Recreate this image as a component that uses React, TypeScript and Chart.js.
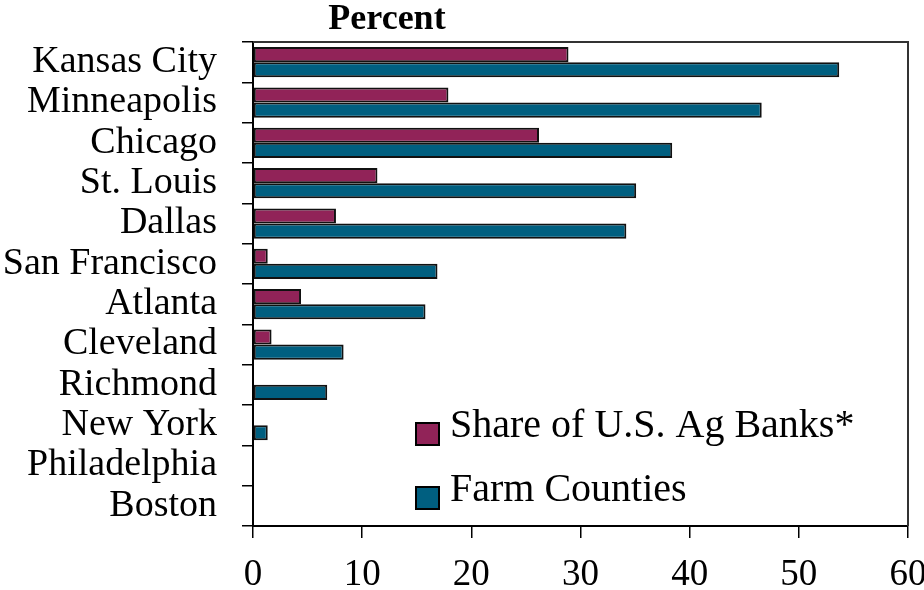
import React, { useEffect, useRef } from "react";
import { Chart, registerables } from "chart.js";

Chart.register(...registerables);

const categories = [
  "Kansas City",
  "Minneapolis",
  "Chicago",
  "St. Louis",
  "Dallas",
  "San Francisco",
  "Atlanta",
  "Cleveland",
  "Richmond",
  "New York",
  "Philadelphia",
  "Boston",
];

const agBankShare = [28.9, 17.9, 26.2, 11.4, 7.6, 1.35, 4.4, 1.7, 0, 0, 0, 0];
const farmCounties = [53.7, 46.6, 38.4, 35.1, 34.2, 16.9, 15.8, 8.3, 6.8, 1.35, 0, 0];

const seriesNames = ["Share of U.S. Ag Banks*", "Farm Counties"];
const xTicks = [0, 10, 20, 30, 40, 50, 60];
const titleText = "Percent";

const MAROON = "#912358";
const TEAL = "#005F80";
const FONT = "'Liberation Serif', 'Times New Roman', serif";

const framePlugin = {
  id: "frame",
  afterDraw(chart: any) {
    const { ctx, chartArea } = chart;
    ctx.save();
    // top and right frame
    ctx.strokeStyle = "#333";
    ctx.lineWidth = 2;
    ctx.beginPath();
    ctx.moveTo(chartArea.left, chartArea.top);
    ctx.lineTo(chartArea.right, chartArea.top);
    ctx.lineTo(chartArea.right, chartArea.bottom);
    ctx.stroke();

    // title
    ctx.fillStyle = "#000";
    ctx.font = `bold 36px ${FONT}`;
    ctx.textAlign = "center";
    ctx.textBaseline = "alphabetic";
    ctx.fillText(titleText, chartArea.left + 134, 29);

    // legend
    ctx.font = `40px ${FONT}`;
    ctx.textAlign = "left";
    chart.data.datasets.forEach((ds: any, i: number) => {
      const bx = chartArea.left + 163;
      const cy = chartArea.bottom - 92 + i * 64;
      ctx.fillStyle = ds.backgroundColor;
      ctx.fillRect(bx, cy - 11, 23, 22);
      ctx.strokeStyle = "#000";
      ctx.lineWidth = 2;
      ctx.strokeRect(bx, cy - 11, 23, 22);
      ctx.fillStyle = "#000";
      ctx.fillText(ds.label, bx + 34, cy + 3);
    });
    ctx.restore();
  },
};

export default function App() {
  const ref = useRef<HTMLCanvasElement>(null);

  useEffect(() => {
    if (!ref.current) return;
    const chart = new Chart(ref.current, {
      type: "bar",
      data: {
        labels: categories,
        datasets: [
          {
            label: seriesNames[0],
            data: agBankShare,
            backgroundColor: MAROON,
            borderColor: "#111",
            borderWidth: 2,
            borderSkipped: false,
          },
          {
            label: seriesNames[1],
            data: farmCounties,
            backgroundColor: TEAL,
            borderColor: "#111",
            borderWidth: 2,
            borderSkipped: false,
          },
        ],
      },
      options: {
        indexAxis: "y",
        animation: false,
        responsive: true,
        maintainAspectRatio: false,
        categoryPercentage: 0.75,
        barPercentage: 1,
        layout: { padding: { top: 42, right: 16, left: 0, bottom: 0 } },
        plugins: {
          legend: { display: false },
          title: { display: false },
          tooltip: { enabled: false },
        },
        scales: {
          x: {
            type: "linear",
            min: 0,
            max: 60,
            afterBuildTicks: (scale: any) => {
              scale.ticks = xTicks.map((v) => ({ value: v }));
            },
            afterFit: (scale: any) => {
              scale.height = 64;
              scale.paddingLeft = 0;
              scale.paddingRight = 0;
            },
            ticks: {
              color: "#000",
              font: { family: FONT, size: 37 },
              padding: 15,
              maxRotation: 0,
              autoSkip: false,
            },
            grid: {
              drawOnChartArea: false,
              drawTicks: true,
              tickLength: 12,
              color: "#000",
              lineWidth: 1.5,
            },
            border: { display: true, color: "#000", width: 2 },
          },
          y: {
            type: "category",
            offset: true,
            afterFit: (scale: any) => {
              scale.width = 253;
              scale.paddingTop = 0;
              scale.paddingBottom = 0;
            },
            ticks: {
              color: "#000",
              font: { family: FONT, size: 38 },
              padding: 25,
              autoSkip: false,
            },
            grid: {
              offset: true,
              drawOnChartArea: false,
              drawTicks: true,
              tickLength: 11,
              color: "#000",
              lineWidth: 1.5,
            },
            border: { display: true, color: "#000", width: 2 },
          },
        },
      },
      plugins: [framePlugin],
    });
    return () => chart.destroy();
  }, []);

  return (
    <div
      style={{
        position: "absolute",
        left: 0,
        top: 0,
        width: 924,
        height: 590,
        background: "#fff",
      }}
    >
      <canvas ref={ref} />
    </div>
  );
}
